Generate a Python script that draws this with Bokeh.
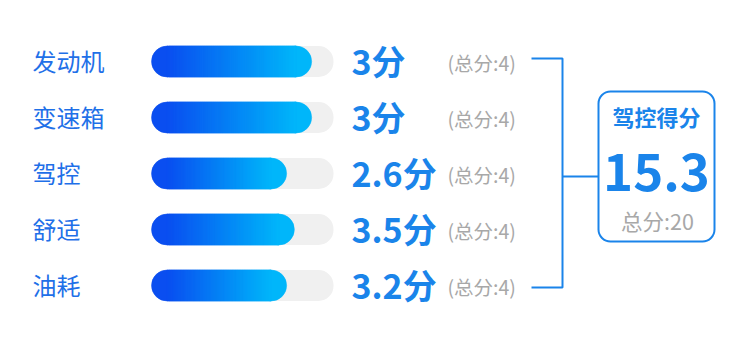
from bokeh.plotting import figure
from bokeh.models import Range1d
from bokeh.core.properties import value
from bokeh.embed import file_html
from bokeh.resources import INLINE

# ---- data ----
categories = ["发动机", "变速箱", "驾控", "舒适", "油耗"]
score_labels = ["3", "3", "2.6", "3.5", "3.2"]
full_marks = [4, 4, 4, 4, 4]
bar_lengths = [3.52, 3.52, 2.97, 3.14, 2.97]   # drawn bar lengths (score units, of 4)
summary_title = "驾控得分"
summary_score = "15.3"
summary_full = 20

# ---- layout / style ----
W, H = 750, 339
FONT = value("Noto Sans CJK SC")
label_x = 32
bar_left, bar_right, bar_h = 151, 333, 31
value_x = 351
total_x = 447
row_y0, row_step = 61, 56
br_x0, br_x = 531, 562
box_l, box_r, box_t, box_b = 598, 714, 91, 241
c_label = "#1f70e8"
c_value = "#1a84ea"
c_gray = "#a8a8a8"
c_track = "#f0f0f0"
c_start = (10, 78, 240)
c_end = (0, 182, 250)

p = figure(width=W, height=H, output_backend="svg", toolbar_location=None,
           x_range=Range1d(0, W), y_range=Range1d(H, 0), min_border=0,
           outline_line_color=None, background_fill_color="white")
p.axis.visible = False
p.grid.visible = False

full = full_marks[0]
px_per = (bar_right - bar_left) / full
p.extra_x_ranges = {"bar": Range1d(-bar_left / px_per, (W - bar_left) / px_per)}
r_u = (bar_h / 2) / px_per

n = len(categories)
ys = [row_y0 + i * row_step for i in range(n)]

# track
p.hbar(y=ys, left=[0] * n, right=full_marks, height=bar_h, x_range_name="bar",
       fill_color=c_track, line_color=None, border_radius=15)

# gradient fill (many overlapping slices)
N = 60
seg_l, seg_r, seg_y, seg_c = [], [], [], []
cap_x, cap_y, cap_c = [], [], []
def mix(t):
    return "#%02x%02x%02x" % tuple(int(round(a + (b - a) * t)) for a, b in zip(c_start, c_end))
for y, L in zip(ys, bar_lengths):
    a, b = r_u, L - r_u
    cap_x += [a, b]
    cap_y += [y, y]
    cap_c += [mix(0), mix(1)]
    for k in range(N):
        seg_l.append(a + (b - a) * k / N)
        seg_r.append(min(b, a + (b - a) * (k + 2) / N))
        seg_y.append(y)
        seg_c.append(mix((k + 0.5) / N))
p.scatter(x=cap_x, y=cap_y, size=bar_h, marker="circle", x_range_name="bar",
          fill_color=cap_c, line_color=cap_c, line_width=0.5)
p.hbar(y=seg_y, left=seg_l, right=seg_r, height=bar_h, x_range_name="bar",
       fill_color=seg_c, line_color=seg_c, line_width=0.5)

# texts
p.text(x=[label_x] * n, y=[y - 1 for y in ys], text=categories, text_font=FONT,
       text_font_size="24px", text_color=c_label, text_baseline="middle", text_align="left")
p.text(x=[value_x] * n, y=[y - 1 for y in ys], text=[s + "分" for s in score_labels],
       text_font=FONT, text_font_size="34px", text_font_style="bold",
       text_color=c_value, text_baseline="middle", text_align="left")
p.text(x=[total_x] * n, y=[y + 0.5 for y in ys], text=["(总分:%d)" % f for f in full_marks],
       text_font=FONT, text_font_size="19.5px", text_color=c_gray,
       text_baseline="middle", text_align="left")

# bracket
top, bot = ys[0] - 3, ys[-1] + 2
mid = (box_t + box_b) / 2
conn_y = ys[n // 2] + 3
p.multi_line(xs=[[br_x0, br_x, br_x, br_x0], [br_x, box_l]],
             ys=[[top, top, bot, bot], [conn_y, conn_y]],
             line_color=c_value, line_width=2)

# summary box
p.rect(x=[(box_l + box_r) / 2], y=[mid], width=box_r - box_l, height=box_b - box_t,
       fill_color="white", line_color=c_value, line_width=2, border_radius=12)
cx = (box_l + box_r) / 2
p.text(x=[cx], y=[115], text=[summary_title], text_font=FONT, text_font_size="22px",
       text_font_style="bold", text_color=c_value, text_baseline="middle", text_align="center")
p.text(x=[cx], y=[171], text=[summary_score], text_font=FONT, text_font_size="51px",
       text_font_style="bold", text_color=c_value, text_baseline="middle", text_align="center")
p.text(x=[cx + 1], y=[220], text=["总分:%d" % summary_full], text_font=FONT,
       text_font_size="21.5px", text_color=c_gray, text_baseline="middle", text_align="center")

open("out.html", "w").write(file_html(p, INLINE))
